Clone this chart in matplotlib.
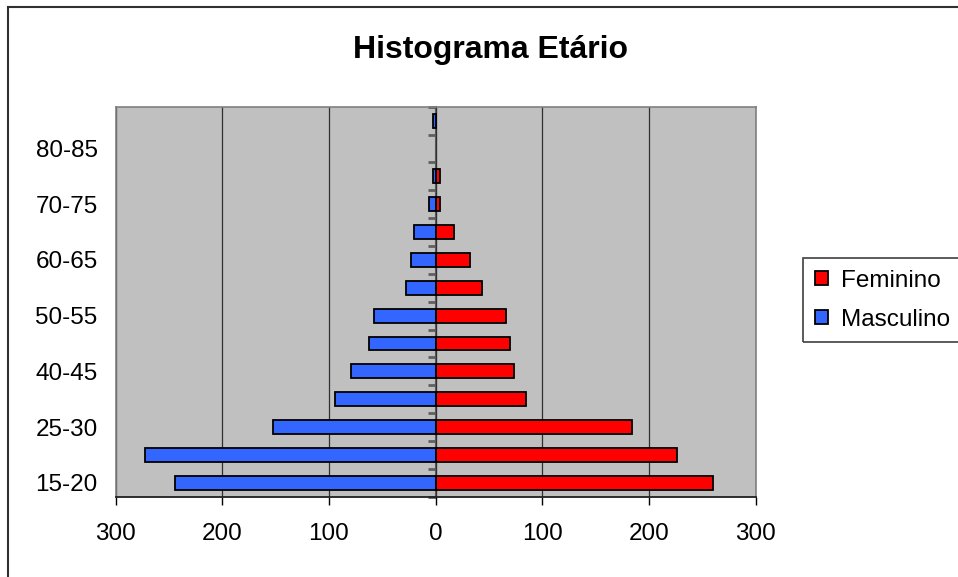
#!/usr/bin/env python3
"""Histograma etario: age pyramid, Feminino to the right, Masculino to the left."""

from __future__ import annotations

import matplotlib

matplotlib.use("Agg")
import matplotlib.pyplot as plt
from matplotlib.lines import Line2D
from matplotlib.patches import Rectangle
from matplotlib.ticker import FuncFormatter

AGE_GROUPS = [
    "15-20", "20-25", "25-30", "35-40", "40-45", "45-50", "50-55",
    "55-60", "60-65", "65-70", "70-75", "75-80", "80-85", "85-90",
]
SHOWN_LABELS = ["15-20", "25-30", "40-45", "50-55", "60-65", "70-75", "80-85"]
MASCULINO = [244, 272, 152, 94, 79, 62, 58, 28, 23, 20.5, 6, 2, 0, 2]
FEMININO = [260, 226, 184, 85, 73.5, 69.5, 66, 43.5, 32, 17, 4, 4, 0, 0]
X_TICKS = [-300, -200, -100, 0, 100, 200, 300]

COLOR_FEM = "#FF0000"
COLOR_MASC = "#3366FF"
PLOT_BG = "#C0C0C0"
FONT = ["Liberation Sans", "DejaVu Sans"]
LABEL_SIZE = 17.5
BAR_EDGE = 1.3


def edge_widths(values: list[float]) -> list[float]:
    # empty groups get no outline, so no sliver shows at zero
    return [BAR_EDGE if v else 0.0 for v in values]


def main() -> None:
    plt.rcParams["font.family"] = FONT
    fig = plt.figure(figsize=(9.58, 5.77), dpi=100)
    ax = fig.add_axes([0.1207, 0.1393, 0.6680, 0.6756])
    ax.set_facecolor(PLOT_BG)

    ypos = list(range(len(AGE_GROUPS)))
    fem = ax.barh(ypos, FEMININO, height=0.5, color=COLOR_FEM,
                  edgecolor="black", linewidth=edge_widths(FEMININO),
                  label="Feminino", zorder=3)
    masc = ax.barh(ypos, [-v for v in MASCULINO], height=0.5, color=COLOR_MASC,
                   edgecolor="black", linewidth=edge_widths(MASCULINO),
                   label="Masculino", zorder=3)

    ax.set_xlim(-300, 300)
    ax.set_ylim(-0.5, len(AGE_GROUPS) - 0.5)
    ax.set_xticks(X_TICKS)
    ax.xaxis.set_major_formatter(FuncFormatter(lambda v, _: f"{abs(int(v))}"))
    ax.tick_params(axis="x", direction="out", length=6, width=1, pad=13,
                   labelsize=LABEL_SIZE)
    ax.grid(axis="x", color="#303030", linewidth=0.9, zorder=1)
    ax.set_axisbelow(True)

    shown = [AGE_GROUPS.index(lab) for lab in SHOWN_LABELS]
    ax.set_yticks(shown)
    ax.set_yticklabels(SHOWN_LABELS)
    ax.tick_params(axis="y", length=0, pad=13, labelsize=LABEL_SIZE)

    for side in ("top", "right", "left"):
        ax.spines[side].set_color("#808080")
        ax.spines[side].set_linewidth(1.2)
    ax.spines["bottom"].set_color("#202020")
    ax.spines["bottom"].set_linewidth(1.3)

    # category axis sits on x=0, with tick marks between groups
    cat_axis = ax.secondary_yaxis(0.5)
    cat_axis.set_alignment("left")
    cat_axis.set_yticks([i + 0.5 for i in range(-1, len(AGE_GROUPS))])
    cat_axis.set_yticklabels([])
    cat_axis.tick_params(direction="out", length=6, width=2, color="#606060")
    cat_axis.spines["left"].set_color("#606060")
    cat_axis.spines["left"].set_linewidth(1.5)

    fig.text(0.5115, 1 - 58 / 577, "Histograma Etário", ha="center",
             va="baseline", fontsize=23, fontweight="bold")

    fig.legend(handles=[fem, masc], loc="center left",
               bbox_to_anchor=(815 / 958, 0.48), frameon=False,
               fontsize=LABEL_SIZE, handlelength=0.55, handleheight=0.55,
               handletextpad=0.5, labelspacing=0.7, borderpad=0,
               borderaxespad=0)
    fig.patches.append(Rectangle((803 / 958, 1 - 342 / 577), 0.2, 84 / 577,
                                 transform=fig.transFigure, fill=False,
                                 edgecolor="#404040", linewidth=1.2))

    fig.add_artist(Line2D([8 / 958, 8 / 958], [0, 1 - 6.5 / 577],
                          transform=fig.transFigure, color="#303030",
                          linewidth=1.5))
    fig.add_artist(Line2D([8 / 958, 1], [1 - 6.5 / 577, 1 - 6.5 / 577],
                          transform=fig.transFigure, color="#303030",
                          linewidth=1.5))

    fig.savefig("out.png", dpi=100)
    plt.close(fig)


if __name__ == "__main__":
    main()
